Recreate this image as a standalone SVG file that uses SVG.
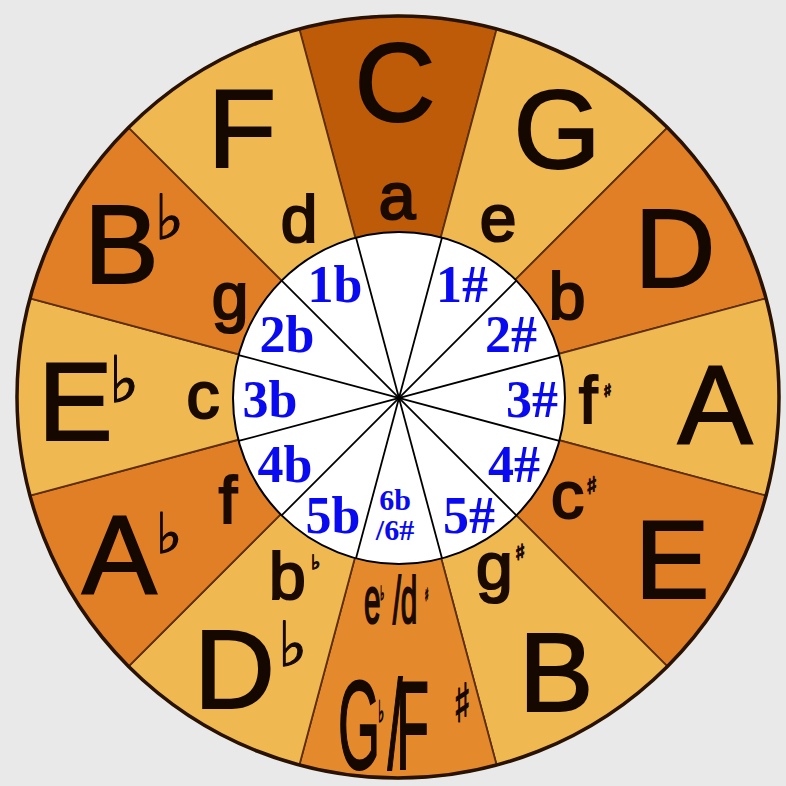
<svg xmlns="http://www.w3.org/2000/svg" width="786" height="786" viewBox="0 0 786 786">
  <style>
    .w { stroke: #5e2e0a; stroke-width: 1.8; }
    .dark { fill: #BE5B08; }
    .light { fill: #F0B850; }
    .mid { fill: #E07F26; }
    .gb { fill: #E5892D; }
    .maj { font-family: "Liberation Sans", Arial, sans-serif; font-size: 112px; fill: #140800; stroke: #140800; stroke-width: 2; }
    .min { font-family: "Liberation Sans", Arial, sans-serif; font-size: 66px; fill: #1a0a00; stroke: #1a0a00; stroke-width: 2.2; }
    .mid-a { text-anchor: middle; }
    .acc { font-family: "DejaVu Sans", sans-serif; stroke-width: 1.2; }
    .num { font-family: "Liberation Serif", "Times New Roman", serif; font-weight: bold; font-size: 52px; fill: #0A0AF0; text-anchor: middle; }
    .sm { font-size: 30px; }
    .spoke { stroke: #000; stroke-width: 1.8; }
  </style>
  <rect width="786" height="786" fill="#E9E9E9"/>

  <g id="wedges">
    <path id="w-C" class="w dark" d="M398 397 L299.39 28.98 A381 381 0 0 1 496.61 28.98 Z"/>
    <path id="w-G" class="w light" d="M398 397 L496.61 28.98 A381 381 0 0 1 667.41 127.59 Z"/>
    <path id="w-D" class="w mid" d="M398 397 L667.41 127.59 A381 381 0 0 1 766.02 298.39 Z"/>
    <path id="w-A" class="w light" d="M398 397 L766.02 298.39 A381 381 0 0 1 766.02 495.61 Z"/>
    <path id="w-E" class="w mid" d="M398 397 L766.02 495.61 A381 381 0 0 1 667.41 666.41 Z"/>
    <path id="w-B" class="w light" d="M398 397 L667.41 666.41 A381 381 0 0 1 496.61 765.02 Z"/>
    <path id="w-Gb" class="w gb" d="M398 397 L496.61 765.02 A381 381 0 0 1 299.39 765.02 Z"/>
    <path id="w-Db" class="w light" d="M398 397 L299.39 765.02 A381 381 0 0 1 128.59 666.41 Z"/>
    <path id="w-Ab" class="w mid" d="M398 397 L128.59 666.41 A381 381 0 0 1 29.98 495.61 Z"/>
    <path id="w-Eb" class="w light" d="M398 397 L29.98 495.61 A381 381 0 0 1 29.98 298.39 Z"/>
    <path id="w-Bb" class="w mid" d="M398 397 L29.98 298.39 A381 381 0 0 1 128.59 127.59 Z"/>
    <path id="w-F" class="w light" d="M398 397 L128.59 127.59 A381 381 0 0 1 299.39 28.98 Z"/>
    <circle cx="398" cy="397" r="381" fill="none" stroke="#2a1200" stroke-width="3.5"/>
  </g>

  <g id="major">
    <text class="maj mid-a" x="395" y="121">C</text>
    <text class="maj mid-a" x="557" y="168">G</text>
    <text class="maj mid-a" x="675" y="287">D</text>
    <text class="maj mid-a" x="715" y="443">A</text>
    <text class="maj mid-a" x="672" y="598">E</text>
    <text class="maj mid-a" x="556" y="711">B</text>
    <text class="maj mid-a" x="242" y="167">F</text>
    <text id="Bb" class="maj" x="84" y="283">B<tspan class="acc" font-size="62" dx="-4" dy="-44">♭</tspan></text>
    <text id="Eb" class="maj" x="38" y="440">E<tspan class="acc" font-size="64" dx="-4" dy="-38">♭</tspan></text>
    <text id="Ab" class="maj" x="82" y="593">A<tspan class="acc" font-size="56" dx="-1" dy="-40">♭</tspan></text>
    <text id="Db" class="maj" x="194" y="708">D<tspan class="acc" font-size="62" dx="3" dy="-42">♭</tspan></text>
    <text id="GbF" class="maj" style="font-size:126px" transform="translate(338,769) scale(0.43,1)">G<tspan class="acc" font-size="30" dx="-5" dy="-47">♭</tspan><tspan dx="8" dy="47">/</tspan><tspan dx="-15">F</tspan></text>
    <text id="Fs-sharp" class="maj acc" style="font-size:54px" transform="translate(453,722) scale(0.7,1)">♯</text>
  </g>

  <g id="minor">
    <text class="min mid-a" x="397" y="219">a</text>
    <text class="min mid-a" x="498" y="241">e</text>
    <text class="min mid-a" x="567" y="319">b</text>
    <text id="fs" class="min" x="579" y="423">f<tspan class="acc" font-size="18" dx="6" dy="-26">♯</tspan></text>
    <text id="cs" class="min" x="551" y="518">c<tspan class="acc" font-size="24" dx="2" dy="-24">♯</tspan></text>
    <text id="gs" class="min" x="476" y="589">g<tspan class="acc" font-size="22" dx="2" dy="-29">♯</tspan></text>
    <text id="ebds" class="min" transform="translate(364,623) scale(0.45,1)">e<tspan class="acc" font-size="20" dx="-1" dy="-23">♭</tspan><tspan dx="19" dy="23">/</tspan><tspan dx="-1">d</tspan><tspan class="acc" font-size="18" dx="17" dy="-22">♯</tspan></text>
    <text id="bb" class="min" x="269" y="599">b<tspan class="acc" font-size="20" dx="5" dy="-30">♭</tspan></text>
    <text class="min mid-a" x="228" y="523">f</text>
    <text class="min mid-a" x="203" y="418">c</text>
    <text class="min mid-a" x="230" y="319">g</text>
    <text class="min mid-a" x="299" y="242">d</text>
  </g>

  <g id="inner">
    <circle cx="399" cy="398" r="166" fill="#fff" stroke="#000" stroke-width="2"/>
    <g id="spokes" class="spoke">
      <line x1="441.96" y1="237.66" x2="356.04" y2="558.34"/>
      <line x1="516.38" y1="280.62" x2="281.62" y2="515.38"/>
      <line x1="559.34" y1="355.04" x2="238.66" y2="440.96"/>
      <line x1="559.34" y1="440.96" x2="238.66" y2="355.04"/>
      <line x1="516.38" y1="515.38" x2="281.62" y2="280.62"/>
      <line x1="441.96" y1="558.34" x2="356.04" y2="237.66"/>
    </g>
    <g id="counts">
      <text class="num" x="335" y="302">1b</text>
      <text class="num" x="462" y="302">1#</text>
      <text class="num" x="287" y="352">2b</text>
      <text class="num" x="511" y="352">2#</text>
      <text class="num" x="270" y="417">3b</text>
      <text class="num" x="532" y="417">3#</text>
      <text class="num" x="285" y="482">4b</text>
      <text class="num" x="514" y="482">4#</text>
      <text class="num" x="333" y="533">5b</text>
      <text class="num" x="469" y="533">5#</text>
      <text class="num sm" x="395" y="510">6b</text>
      <text class="num sm" x="395" y="540">/6#</text>
    </g>
  </g>
</svg>
